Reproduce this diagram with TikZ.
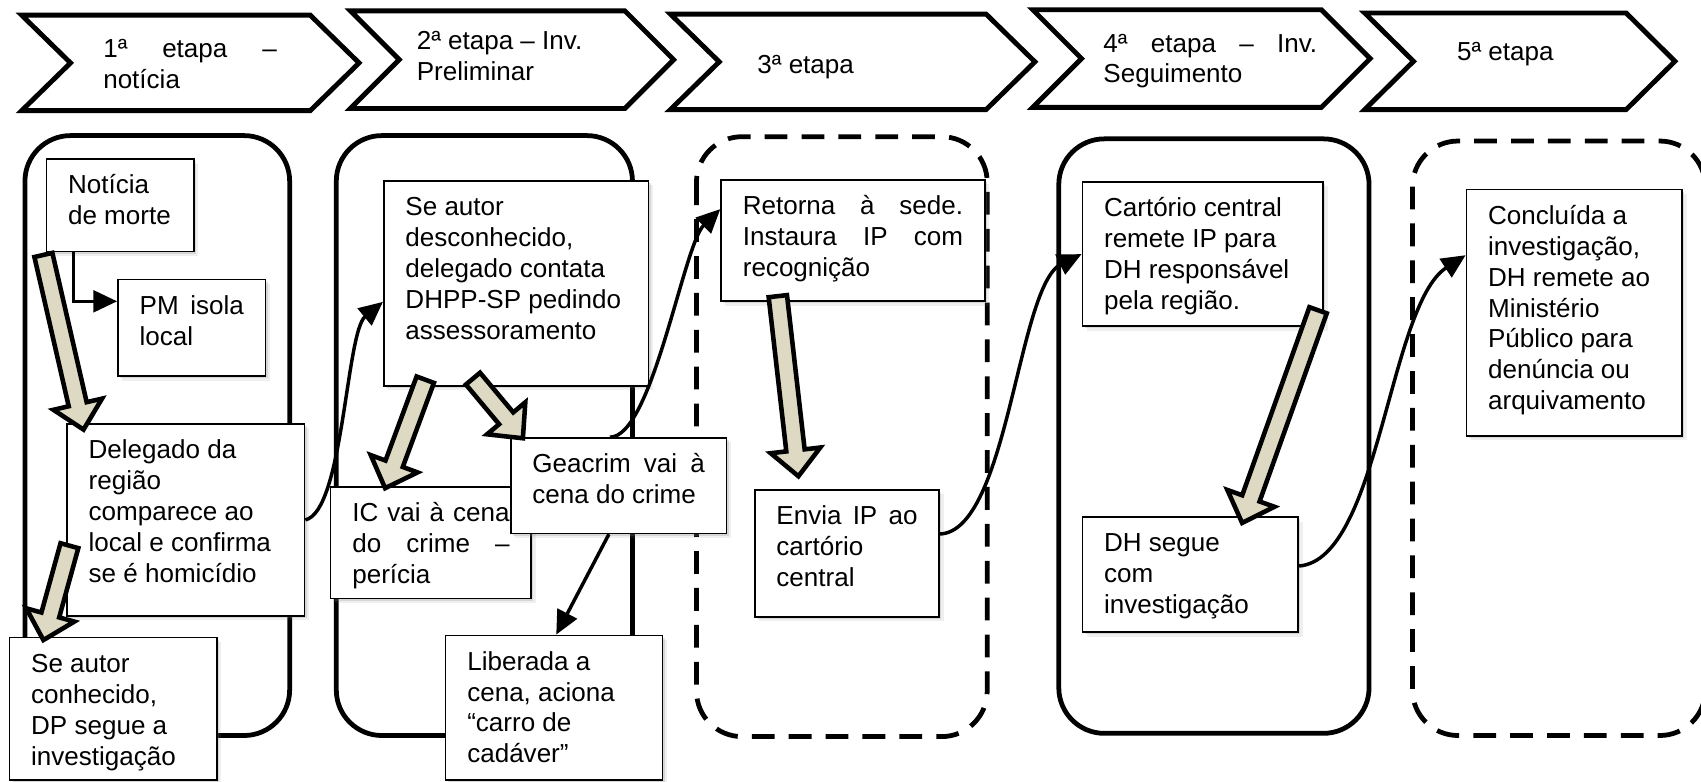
\documentclass[tikz,border=0pt]{standalone}
\usepackage{fontspec}
\setmainfont{Liberation Sans}
\usetikzlibrary{calc,shadows,arrows.meta}
\definecolor{arrowtan}{RGB}{221,217,195}

% text block of a box: fixed width/height, text hung from the top
\newcommand\bxt[3]{\parbox[c][#2][t]{#1}{\raggedright\leftskip=20pt\relax\rule{0pt}{32pt}#3}}
% a line spread to a given width
\newcommand\jl[2]{\makebox[#1][s]{#2}}
% chevron outline: left x, right x, top y, bottom y
\newcommand\chevronshape[4]{\draw[chev] (#1,#3) -- (#2,#3) -- ({#2+45},{(#3+#4)/2}) -- (#2,#4) -- (#1,#4) -- ({#1+45},{(#3+#4)/2}) -- cycle;}
% broad block arrow from #1 (tail) to #2 (tip)
\newcommand\fatarrow[2]{%
  \coordinate (fah) at ($(#2)!24pt!(#1)$);
  \draw[fat] ($(#1)!8.5pt!90:(#2)$) -- ($(fah)!8.5pt!-90:(#1)$) -- ($(fah)!23pt!-90:(#1)$) -- (#2)
     -- ($(fah)!23pt!90:(#1)$) -- ($(fah)!8.5pt!90:(#1)$) -- ($(#1)!8.5pt!-90:(#2)$) -- cycle;}

\tikzset{
  panel/.style={draw, line width=4.4pt, rounded corners=42pt},
  dpanel/.style={panel, dash pattern=on 21pt off 13pt},
  chev/.style={draw, line width=4.5pt, fill=white, line join=miter},
  chevtext/.style={inner sep=0pt, anchor=base west},
  tbox/.style={draw, line width=1.5pt, fill=white, inner sep=0pt, anchor=north west,
    drop shadow={shadow xshift=2pt, shadow yshift=-2pt, opacity=.22},
    drop shadow={shadow xshift=4pt, shadow yshift=-4pt, opacity=.12}},
  link/.style={draw, line width=3.2pt, -{Triangle[length=22pt,width=20pt]}},
  fat/.style={draw, line width=4.2pt, fill=arrowtan, line join=miter},
}

\begin{document}
\begin{tikzpicture}[x=1pt,y=-1pt,font=\fontsize{24pt}{28.5pt}\selectfont]
\useasboundingbox (0,0) rectangle (1568,720);
\fill[white] (0,0) rectangle (1568,720);

% stage frames
\draw[panel]  (23,125)   rectangle (267,678);
\draw[panel]  (310,125)  rectangle (583,678);
\draw[dpanel] (642,126)  rectangle (910,679);
\draw[panel]  (976,128)  rectangle (1262,676);
\draw[dpanel] (1302,130) rectangle (1572,678);

% stage chevrons
\chevronshape{20}{286}{14}{102}
\chevronshape{323}{576}{10}{100}
\chevronshape{618}{909}{13}{101}
\chevronshape{952}{1218}{9}{99}
\chevronshape{1258}{1499}{12}{101}

\node[chevtext] (t1) at (95,53)   {\parbox[t]{200pt}{\jl{160pt}{1ª etapa –}\\notícia}};
\node[chevtext] (t2) at (384,46)  {\parbox[t]{200pt}{2ª etapa – Inv.\\Preliminar}};
\node[chevtext] (t3) at (698,68)  {\parbox[t]{200pt}{3ª etapa}};
\node[chevtext] (t4) at (1017,48) {\parbox[t]{200pt}{\jl{197pt}{4ª etapa – Inv.}\\Seguimento}};
\node[chevtext] (t5) at (1343,56) {\parbox[t]{200pt}{5ª etapa}};

% boxes
\node[tbox] (b1) at (42,146)  {\bxt{136pt}{85pt}{Notícia\\de morte}};
\node[tbox] (b2) at (108,257) {\bxt{136pt}{89pt}{\jl{96pt}{PM isola}\\local}};
\node[tbox] (b3) at (61,390)  {\bxt{219pt}{177pt}{Delegado da\\região\\comparece ao\\local e confirma\\se é homicídio}};
\node[tbox] (b4) at (8,587)   {\bxt{191pt}{131pt}{Se autor\\conhecido,\\DP segue a\\investigação}};
\node[tbox] (b5) at (353,166) {\bxt{244pt}{189pt}{Se autor\\desconhecido,\\delegado contata\\DHPP-SP pedindo\\assessoramento}};
\node[tbox] (b6) at (304,448) {\bxt{185pt}{103pt}{\jl{145pt}{IC vai à cena}\\\jl{145pt}{do crime –}\\perícia}};
\node[tbox] (b7) at (470,403) {\bxt{199pt}{88pt}{\jl{159pt}{Geacrim vai à}\\cena do crime}};
\node[tbox] (b8) at (410,585) {\bxt{200pt}{133pt}{Liberada a\\cena, aciona\\“carro de\\cadáver”}};
\node[tbox] (b9) at (664,165) {\bxt{243pt}{112pt}{\jl{203pt}{Retorna à sede.}\\\jl{203pt}{Instaura IP com}\\recognição}};
\node[tbox] (b10) at (695,451) {\bxt{170pt}{117pt}{\jl{130pt}{Envia IP ao}\\cartório\\central}};
\node[tbox] (b11) at (997,167) {\bxt{222pt}{133pt}{Cartório central\\remete IP para\\DH responsável\\pela região.}};
\node[tbox] (b12) at (997,476) {\bxt{199pt}{106pt}{DH segue\\com\\investigação}};
\node[tbox] (b13) at (1351,174) {\bxt{199pt}{227pt}{Concluída a\\investigação,\\DH remete ao\\Ministério\\Público para\\denúncia ou\\arquivamento}};

% thin connectors
\draw[link] ([xshift=-43pt]b1.south) |- ([yshift=24.5pt]b2.west);
\draw[link] (b3.east) .. controls +(35,-8) and +(-34,28) .. ([yshift=-17pt]b5.west);
\draw[link] ([xshift=-8pt]b7.north) .. controls +(39,0) and +(-34,33) .. ([yshift=29pt]b9.west);
\draw[link] ([xshift=-9pt]b7.south) -- ([xshift=2pt]b8.north);
\draw[link] ([yshift=18pt]b10.east) .. controls +(63,-3) and +(-59,29) .. (b11.west);
\draw[link] ([yshift=8pt]b12.east) .. controls +(74,-6) and +(-71,46) .. ([yshift=53pt]b13.west);

% block arrows
\coordinate (f1a) at (40,235);   \coordinate (f1b) at (77,396);
\coordinate (f2a) at (64,503);   \coordinate (f2b) at (40,590);
\coordinate (f3a) at (392,350);  \coordinate (f3b) at (355,450);
\coordinate (f4a) at (436,349);  \coordinate (f4b) at (482,404);
\coordinate (f5a) at (717,273);  \coordinate (f5b) at (736,439);
\coordinate (f6a) at (1215,286); \coordinate (f6b) at (1145,482);
\fatarrow{f1a}{f1b}
\fatarrow{f2a}{f2b}
\fatarrow{f3a}{f3b}
\fatarrow{f4a}{f4b}
\fatarrow{f5a}{f5b}
\fatarrow{f6a}{f6b}
\end{tikzpicture}
\end{document}
